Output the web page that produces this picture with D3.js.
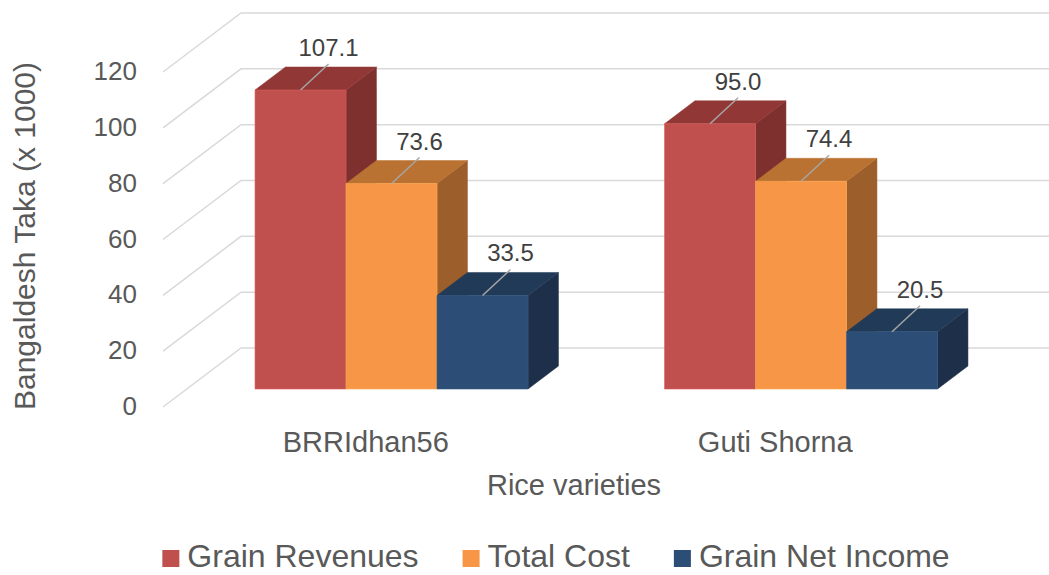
<!DOCTYPE html>
<html>
<head>
<meta charset="utf-8">
<script src="https://cdn.jsdelivr.net/npm/d3@7"></script>
<style>
  html, body { margin: 0; padding: 0; background: #fff; }
  svg { display: block; font-family: "Liberation Sans", Arial, sans-serif; }
</style>
</head>
<body>
<div id="chart"></div>
<script>
const categories = ["BRRIdhan56", "Guti Shorna"];
const series = ["Grain Revenues", "Total Cost", "Grain Net Income"];
const revenues = [107.1, 95.0];
const totalCost = [73.6, 74.4];
const netIncome = [33.5, 20.5];
const yTicks = [0, 20, 40, 60, 80, 100, 120];

const width = 1049, height = 575;

// front, top, side shades per series
const shades = {
  "Grain Revenues":   ["#c0504d", "#913836", "#7e302f"],
  "Total Cost":       ["#f79646", "#ba7232", "#9c5f2b"],
  "Grain Net Income": ["#2c4d75", "#213a57", "#1e3049"]
};

const values = [revenues, totalCost, netIncome];
const data = categories.map((c, i) => ({
  cat: c,
  bars: series.map((s, j) => ({ key: s, value: values[j][i] }))
}));

// oblique depth: full depth shift of the floor
const DX = 78, DY = -59;
const z0 = 0.305, z1 = 0.695;

const svg = d3.select("#chart")
  .append("svg")
  .attr("width", width)
  .attr("height", height);

const y = d3.scaleLinear().domain([0, 120]).range([407, 72]);
const x0 = d3.scaleBand().domain(categories).range([163, 982]);
const x1 = d3.scaleBand().domain(series).range([0, x0.bandwidth()]).paddingOuter(0.75);

// gridlines: side wall diagonal + back wall horizontal
svg.append("g")
  .selectAll("path")
  .data(yTicks)
  .join("path")
  .attr("d", d => `M163,${y(d)}L${163 + DX},${y(d) + DY}L${width + 10},${y(d) + DY}`)
  .attr("fill", "none")
  .attr("stroke", "#d9d9d9")
  .attr("stroke-width", 1.5);

// tick labels
svg.append("g")
  .attr("fill", "#595959")
  .style("font-size", "26px")
  .attr("text-anchor", "end")
  .selectAll("text")
  .data(yTicks)
  .join("text")
  .attr("x", 137)
  .attr("y", d => y(d) + 8)
  .text(d => d);

const pt = (x, v, z) => [x + z * DX, y(v) + z * DY];
const poly = pts => "M" + pts.map(p => p.join(",")).join("L") + "Z";

const groups = svg.append("g")
  .selectAll("g")
  .data(data)
  .join("g");

const bar = groups.selectAll("g")
  .data(d => d.bars.map(b => ({ ...b, cat: d.cat })))
  .join("g");

bar.each(function (d) {
  const g = d3.select(this);
  const xa = x0(d.cat) + x1(d.key);
  const xb = xa + x1.bandwidth();
  const c = shades[d.key];
  // side face
  g.append("path")
    .attr("d", poly([pt(xb, 0, z0), pt(xb, 0, z1), pt(xb, d.value, z1), pt(xb, d.value, z0)]))
    .attr("fill", c[2]).attr("stroke", c[2]).attr("stroke-width", 0.5);
  // top face
  g.append("path")
    .attr("d", poly([pt(xa, d.value, z0), pt(xb, d.value, z0), pt(xb, d.value, z1), pt(xa, d.value, z1)]))
    .attr("fill", c[1]).attr("stroke", c[1]).attr("stroke-width", 0.5);
  // front face
  g.append("path")
    .attr("d", poly([pt(xa, 0, z0), pt(xb, 0, z0), pt(xb, d.value, z0), pt(xa, d.value, z0)]))
    .attr("fill", c[0]).attr("stroke", d3.color(c[0]).brighter(0.4)).attr("stroke-width", 0.6);
});

// data labels with leader lines
const labels = svg.append("g");
data.forEach(d => {
  d.bars.forEach(b => {
    const cx = x0(d.cat) + x1(b.key) + x1.bandwidth() / 2;
    const [sx, sy] = pt(cx, b.value, z0);
    const ex = sx + 28, ey = sy - 26;
    labels.append("line")
      .attr("x1", sx).attr("y1", sy)
      .attr("x2", ex).attr("y2", ey)
      .attr("stroke", "#a6a6a6")
      .attr("stroke-width", 1.5);
    labels.append("text")
      .attr("x", ex)
      .attr("y", ey - 8)
      .attr("text-anchor", "middle")
      .attr("fill", "#404040")
      .style("font-size", "24px")
      .text(b.value.toFixed(1));
  });
});

// category labels
svg.append("g")
  .attr("fill", "#595959")
  .style("font-size", "29px")
  .attr("text-anchor", "middle")
  .selectAll("text")
  .data(categories)
  .join("text")
  .attr("x", d => x0(d) + x0.bandwidth() / 2 - 2)
  .attr("y", 452)
  .text(d => d);

// axis titles
svg.append("text")
  .attr("x", 574)
  .attr("y", 495)
  .attr("text-anchor", "middle")
  .attr("fill", "#595959")
  .style("font-size", "29px")
  .text("Rice varieties");

svg.append("text")
  .attr("transform", "translate(35,236) rotate(-90)")
  .attr("text-anchor", "middle")
  .attr("fill", "#595959")
  .style("font-size", "30px")
  .text("Bangaldesh Taka (x 1000)");

// legend
const legend = svg.append("g");
const items = legend.selectAll("g")
  .data(series)
  .join("g");
items.append("rect")
  .attr("width", 17).attr("height", 17)
  .attr("y", 550)
  .attr("fill", d => shades[d][0]);
items.append("text")
  .attr("x", 25)
  .attr("y", 567)
  .attr("fill", "#595959")
  .style("font-size", "32px")
  .text(d => d);

let lx = 0;
const offsets = [];
items.each(function () {
  offsets.push(lx);
  lx += 25 + this.querySelector("text").getComputedTextLength() + 44;
});
const total = lx - 44;
const startX = 556 - total / 2;
items.attr("transform", (d, i) => `translate(${startX + offsets[i]},0)`);
</script>
</body>
</html>
